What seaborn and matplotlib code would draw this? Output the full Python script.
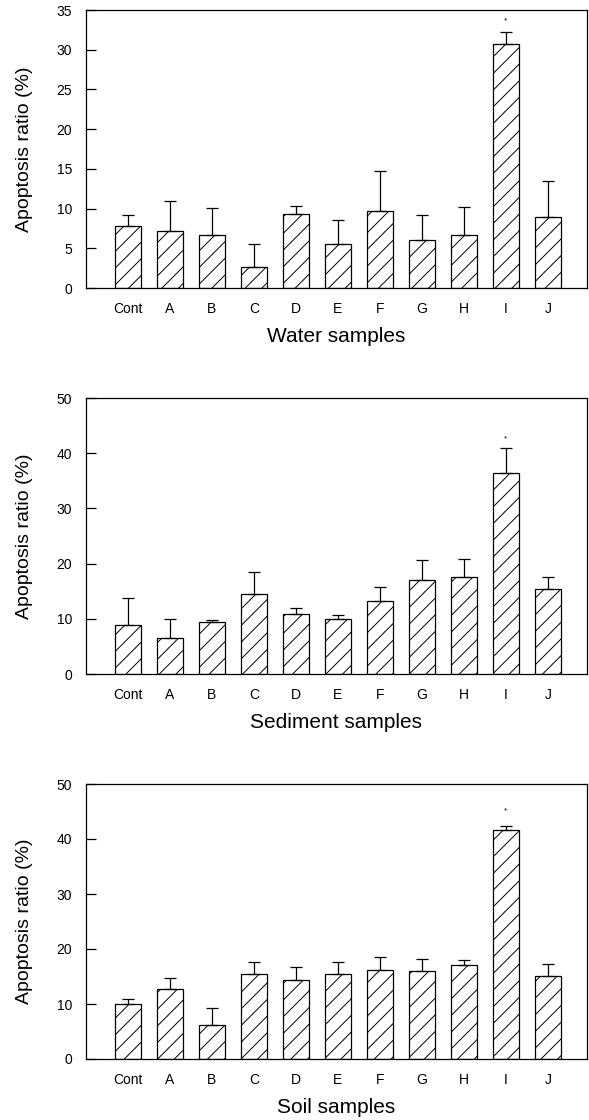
import numpy as np
import pandas as pd
import matplotlib
matplotlib.use("Agg")
import matplotlib.pyplot as plt
import seaborn as sns

categories = ["Cont", "A", "B", "C", "D", "E", "F", "G", "H", "I", "J"]

water_mean = [7.8, 7.2, 6.7, 2.7, 9.3, 5.5, 9.7, 6.1, 6.7, 30.7, 9.0]
water_sd = [1.4, 3.7, 3.4, 2.8, 1.0, 3.0, 5.0, 3.1, 3.5, 1.5, 4.5]

sediment_mean = [8.9, 6.6, 9.4, 14.5, 10.9, 9.9, 13.2, 17.0, 17.6, 36.4, 15.4]
sediment_sd = [4.9, 3.3, 0.3, 3.9, 1.0, 0.8, 2.5, 3.6, 3.2, 4.6, 2.2]

soil_mean = [10.0, 12.7, 6.1, 15.5, 14.4, 15.4, 16.1, 16.0, 17.1, 41.6, 15.1]
soil_sd = [0.9, 2.0, 3.2, 2.2, 2.3, 2.2, 2.5, 2.2, 0.9, 0.8, 2.1]

panel_titles = ["Water samples", "Sediment samples", "Soil samples"]
y_max = [35, 50, 50]
y_step = [5, 10, 10]
significant = "I"
star_offset_pt = [8, 6, 11]

sns.set_style("white")
plt.rcParams["font.family"] = ["Liberation Sans", "DejaVu Sans"]
plt.rcParams["hatch.linewidth"] = 0.7
plt.rcParams["hatch.color"] = "black"
for key in ["text.color", "axes.labelcolor", "xtick.color", "ytick.color", "axes.edgecolor"]:
    plt.rcParams[key] = "black"

fig = plt.figure(figsize=(5.89, 11.2), dpi=100)
W, H = 589, 1120
left_px, right_px = 86, 587
boxes = [(10, 288), (398, 674), (784, 1059)]

panels = [(water_mean, water_sd), (sediment_mean, sediment_sd), (soil_mean, soil_sd)]

for k, ((means, sds), (top, bot)) in enumerate(zip(panels, boxes)):
    ax = fig.add_axes([left_px / W, 1 - bot / H, (right_px - left_px) / W, (bot - top) / H])
    df = pd.DataFrame({"sample": categories, "ratio": means, "sd": sds})
    sns.barplot(data=df, x="sample", y="ratio", order=categories, color="white",
                saturation=1, edgecolor="black", linewidth=0.9, hatch="//",
                width=0.6, errorbar=None, ax=ax)
    xs = np.arange(len(categories))
    ax.errorbar(xs, df["ratio"], yerr=[np.zeros(len(sds)), df["sd"]], fmt="none",
                ecolor="black", elinewidth=0.9, capsize=4, capthick=0.9)
    i = categories.index(significant)
    ax.annotate("*", xy=(i, means[i] + sds[i]), xytext=(0, star_offset_pt[k]),
                textcoords="offset points", ha="center", va="center", fontsize=6)
    ax.set_xlim(-1.0, 10.93)
    ax.set_ylim(0, y_max[k])
    ax.set_yticks(np.arange(0, y_max[k] + 0.1, y_step[k]))
    ax.tick_params(axis="y", direction="in", length=7, width=0.9, labelsize=10, pad=10, left=True)
    ax.tick_params(axis="x", length=0, labelsize=10, pad=10)
    for s in ax.spines.values():
        s.set_color("black")
        s.set_linewidth(0.9)
    ax.set_ylabel("Apoptosis ratio (%)", fontsize=14)
    ax.yaxis.set_label_coords(-0.106, 0.5)
    ax.set_xlabel(panel_titles[k], fontsize=15, labelpad=8)

fig.savefig("out.png", dpi=100, facecolor="white")
